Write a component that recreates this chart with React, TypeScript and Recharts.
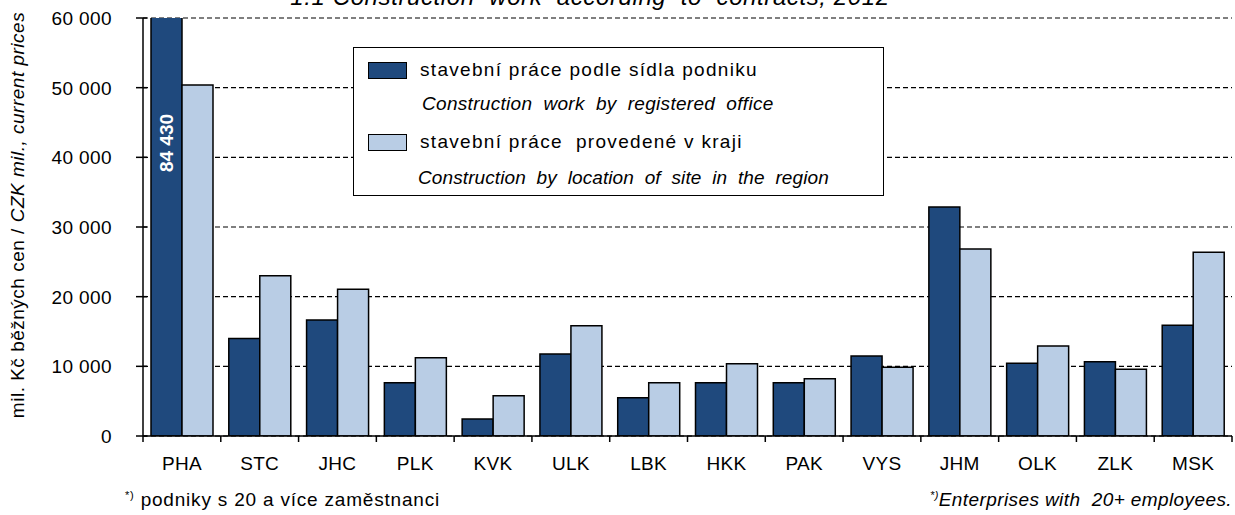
import { BarChart, Bar, XAxis, YAxis, CartesianGrid, Legend, LabelList } from "recharts";

const categories = ["PHA", "STC", "JHC", "PLK", "KVK", "ULK", "LBK", "HKK", "PAK", "VYS", "JHM", "OLK", "ZLK", "MSK"];
const byOffice = [84430, 14000, 16650, 7660, 2440, 11770, 5500, 7660, 7660, 11480, 32870, 10430, 10670, 15890];
const bySite = [50400, 23000, 21050, 11240, 5790, 15830, 7660, 10380, 8230, 9860, 26840, 12920, 9570, 26370];
const yTicks = [0, 10000, 20000, 30000, 40000, 50000, 60000];

const data = categories.map((name, i) => ({ name, office: byOffice[i], site: bySite[i] }));

const DARK = "#1F497D";
const LIGHT = "#B9CDE5";
const FONT = "'Liberation Sans', Arial, sans-serif";

const W = 1235;
const H = 515;
const PLOT_LEFT = 143;
const PLOT_RIGHT = 1232;
const band = (PLOT_RIGHT - PLOT_LEFT) / categories.length;

const fmt = (v: number) => String(v).replace(/\B(?=(\d{3})+(?!\d))/g, " ");

const YTick = (props: any) => {
  const { x, y, payload } = props;
  return (
    <g>
      <line x1={x + 1} x2={x + 12} y1={y} y2={y} stroke="#000" strokeWidth={1.5} />
      <text x={x - 23} y={y + 7} textAnchor="end" fontSize={19} letterSpacing={0.4} fontFamily={FONT} fill="#000">
        {fmt(payload.value)}
      </text>
    </g>
  );
};

const XTick = (props: any) => {
  const { x, y, payload, index } = props;
  const left = x - band / 2;
  return (
    <g>
      <line x1={left} x2={left} y1={436} y2={442} stroke="#000" strokeWidth={1.5} />
      {index === categories.length - 1 && (
        <line x1={x + band / 2} x2={x + band / 2} y1={436} y2={442} stroke="#000" strokeWidth={1.5} />
      )}
      <text x={x} y={y + 26} textAnchor="middle" fontSize={19} letterSpacing={0.3} fontFamily={FONT} fill="#000">
        {payload.value}
      </text>
    </g>
  );
};

const YLabel = () => (
  <text
    transform="translate(24, 215) rotate(-90)"
    textAnchor="middle"
    fontSize={19}
    letterSpacing={0.5}
    fontFamily={FONT}
    fill="#000"
  >
    <tspan>mil. Kč běžných cen / </tspan>
    <tspan fontStyle="italic">CZK mil., current prices</tspan>
  </text>
);

const PeakLabel = (props: any) => {
  const { x, y, width, index, value } = props;
  if (index !== 0) return null;
  const top = Math.max(y, 18);
  const cx = x + width / 2;
  const cy = top + 125;
  return (
    <text
      transform={`translate(${cx + 6}, ${cy}) rotate(-90)`}
      textAnchor="middle"
      fontSize={19}
      fontWeight="bold"
      fontFamily={FONT}
      fill="#fff"
    >
      {fmt(value)}
    </text>
  );
};

const Swatch = ({ color, top }: { color: string; top: number }) => (
  <div
    style={{
      position: "absolute",
      left: 14,
      top,
      width: 37,
      height: 15,
      background: color,
      border: "1.5px solid #000",
    }}
  />
);

const LegendBox = () => {
  const line = (top: number, left: number, text: string, italic = false, spacing = 1.3) => (
    <div
      style={{
        position: "absolute",
        left,
        top,
        fontSize: 19,
        letterSpacing: spacing,
        fontStyle: italic ? "italic" : "normal",
        whiteSpace: "pre",
        lineHeight: "20px",
        color: "#000",
      }}
    >
      {text}
    </div>
  );
  return (
    <div
      style={{
        position: "relative",
        width: 529,
        height: 147,
        border: "1.5px solid #000",
        background: "#fff",
        fontFamily: FONT,
      }}
    >
      <Swatch color={DARK} top={14} />
      {line(12, 66, "stavební práce podle sídla podniku")}
      {line(46, 68, "Construction  work  by  registered  office", true, 0.3)}
      <Swatch color={LIGHT} top={86} />
      {line(84, 66, "stavební práce  provedené v kraji")}
      {line(120, 64, "Construction  by  location  of  site  in  the  region", true, 0.1)}
    </div>
  );
};

export default function App() {
  return (
    <div style={{ position: "absolute", left: 0, top: 0, width: W, height: H, background: "#fff", overflow: "hidden" }}>
      <div
        style={{
          position: "absolute",
          left: 0,
          width: 1180,
          top: -17,
          textAlign: "center",
          fontFamily: FONT,
          fontStyle: "italic",
          fontSize: 24,
          letterSpacing: 0.6,
          whiteSpace: "pre",
        }}
      >
        {"1.1 Construction  work  according  to  contracts, 2012"}
      </div>
      <BarChart
        width={W}
        height={H}
        data={data}
        margin={{ top: 18, right: W - PLOT_RIGHT, left: 0, bottom: 39 }}
        barCategoryGap={8}
        barGap={0}
      >
        <CartesianGrid vertical={false} stroke="#000" strokeDasharray="5 3" strokeWidth={1.2} />
        <XAxis
          dataKey="name"
          height={40}
          axisLine={{ stroke: "#000", strokeWidth: 1.5 }}
          tickLine={false}
          tick={<XTick />}
          interval={0}
        />
        <YAxis
          width={PLOT_LEFT}
          domain={[0, 60000]}
          ticks={yTicks}
          allowDataOverflow
          axisLine={{ stroke: "#000", strokeWidth: 1.5 }}
          tickLine={false}
          tick={<YTick />}
          label={<YLabel />}
        />
        <YAxis
          yAxisId="frame"
          orientation="right"
          width={0}
          tick={false}
          tickLine={false}
          axisLine={{ stroke: "#000", strokeWidth: 1.5 }}
        />
        <Legend
          layout="vertical"
          align="center"
          verticalAlign="middle"
          wrapperStyle={{ left: 353, top: 47, width: "auto" }}
          content={() => <LegendBox />}
        />
        <Bar dataKey="office" fill={DARK} stroke="#000" strokeWidth={1.5} isAnimationActive={false}>
          <LabelList dataKey="office" content={<PeakLabel />} />
        </Bar>
        <Bar dataKey="site" fill={LIGHT} stroke="#000" strokeWidth={1.5} isAnimationActive={false} />
      </BarChart>
      <div
        style={{
          position: "absolute",
          left: 125,
          top: 489,
          fontFamily: FONT,
          fontSize: 19,
          letterSpacing: 0.8,
          whiteSpace: "nowrap",
        }}
      >
        <sup style={{ fontSize: 11 }}>*)</sup> podniky s 20 a více zaměstnanci
      </div>
      <div
        style={{
          position: "absolute",
          right: 3,
          top: 489,
          fontFamily: FONT,
          fontSize: 19,
          letterSpacing: 0.4,
          fontStyle: "italic",
          whiteSpace: "pre",
        }}
      >
        <sup style={{ fontSize: 11 }}>*)</sup>Enterprises with  20+ employees.
      </div>
    </div>
  );
}
